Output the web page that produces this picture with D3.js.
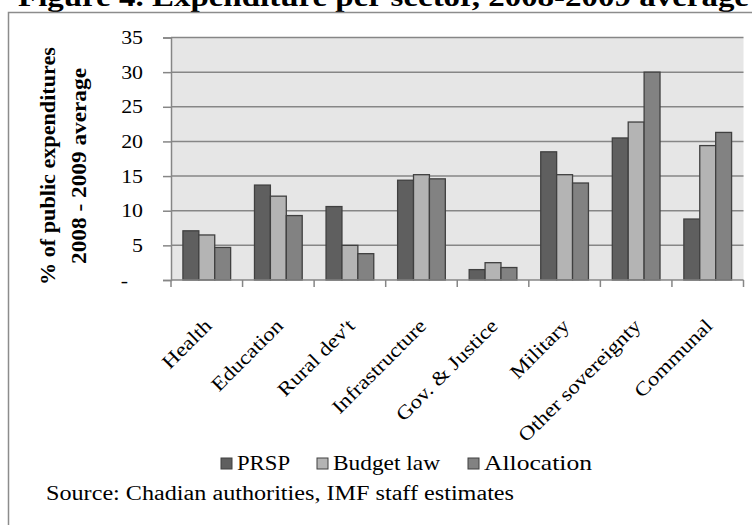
<!DOCTYPE html>
<html>
<head>
<meta charset="utf-8">
<script src="https://cdn.jsdelivr.net/npm/d3@7"></script>
<style>
  html, body { margin: 0; padding: 0; background: #fff; }
  svg { display: block; }
  text { font-family: "Liberation Serif", "Times New Roman", serif; fill: #000; }
</style>
</head>
<body>
<svg id="chart" width="752" height="525"></svg>
<script>
// Sector categories and the three expenditure series (% of public expenditures)
const categories = ["Health", "Education", "Rural dev't", "Infrastructure", "Gov. & Justice",
                    "Military", "Other sovereignty", "Communal"];
const seriesNames = ["PRSP", "Budget law", "Allocation"];
const prsp       = [7.1, 13.7, 10.6, 14.4, 1.5, 18.5, 20.5, 8.8];
const budgetLaw  = [6.5, 12.1, 5.0, 15.2, 2.5, 15.2, 22.8, 19.4];
const allocation = [4.7, 9.3, 3.8, 14.6, 1.8, 14.0, 30.0, 21.3];
const yTicks = [0, 5, 10, 15, 20, 25, 30, 35];

const seriesValues = [prsp, budgetLaw, allocation];
const seriesColors = ["#5f5f5f", "#b4b4b4", "#828282"];

const svg = d3.select("#chart");

// horizontally widen a text element to a given factor of its natural width
function stretch(sel, k) {
  sel.each(function () {
    const w = this.getComputedTextLength();
    d3.select(this).attr("textLength", w * k).attr("lengthAdjust", "spacingAndGlyphs");
  });
}

// Title (top edge clipped by the page)
svg.append("text")
  .attr("x", 18).attr("y", 6)
  .attr("font-size", 28).attr("font-weight", "bold")
  .attr("textLength", 731).attr("lengthAdjust", "spacingAndGlyphs")
  .text("Figure 4. Expenditure per sector, 2008-2009 average");

// Outer chart frame
svg.append("rect")
  .attr("x", 8.5).attr("y", 12.5).attr("width", 800).attr("height", 600)
  .attr("fill", "none").attr("stroke", "#8c8c8c").attr("stroke-width", 1.5);

const plot = { left: 171, right: 743.5, top: 37.5, bottom: 280 };

const x0 = d3.scaleBand().domain(categories).range([plot.left, plot.right]).padding(0);
const bw = x0.bandwidth();
const gap = bw * 1.5 / 4.5;
const x1 = d3.scaleBand().domain(seriesNames).range([gap / 2, bw - gap / 2]).padding(0);
const y = d3.scaleLinear().domain([0, 35]).range([plot.bottom, plot.top]);

// Plot background
svg.append("rect")
  .attr("x", plot.left).attr("y", y(35))
  .attr("width", plot.right - plot.left).attr("height", y(0) - y(35))
  .attr("fill", "#e6e6e6");

// Horizontal gridlines
svg.append("g").selectAll("line").data(yTicks.filter(d => d > 0)).join("line")
  .attr("x1", plot.left).attr("x2", plot.right)
  .attr("y1", d => y(d)).attr("y2", d => y(d))
  .attr("stroke", "#868686").attr("stroke-width", 1.5);

// Y axis
const yAxis = svg.append("g")
  .attr("transform", `translate(${plot.left},0)`)
  .call(d3.axisLeft(y).tickValues(yTicks).tickSize(8).tickPadding(20)
    .tickFormat(d => d === 0 ? "-" : d3.format("d")(d)));
yAxis.select(".domain").attr("stroke", "#868686").attr("stroke-width", 1.5);
yAxis.selectAll(".tick line").attr("stroke", "#868686").attr("stroke-width", 1.5);
yAxis.selectAll(".tick text")
  .attr("font-family", "Liberation Serif").attr("font-size", 19).attr("fill", "#000")
  .attr("dx", d => d === 0 ? -15 : 0)
  .call(stretch, 1.15);

// Bars
const groups = svg.append("g").selectAll("g").data(categories).join("g")
  .attr("transform", d => `translate(${x0(d)},0)`);
groups.selectAll("rect")
  .data((c, i) => seriesNames.map((s, j) => ({ s, v: seriesValues[j][i], j })))
  .join("rect")
  .attr("x", d => x1(d.s)).attr("width", x1.bandwidth())
  .attr("y", d => y(d.v)).attr("height", d => y(0) - y(d.v))
  .attr("fill", d => seriesColors[d.j])
  .attr("stroke", "#404040").attr("stroke-width", 1.3);

// X axis line and boundary ticks
const xg = svg.append("g");
xg.append("line")
  .attr("x1", plot.left).attr("x2", plot.right)
  .attr("y1", y(0)).attr("y2", y(0))
  .attr("stroke", "#868686").attr("stroke-width", 1.5);
const bounds = categories.map(c => x0(c)).concat([x0(categories[categories.length - 1]) + bw]);
xg.selectAll("line.tk").data(bounds).join("line").attr("class", "tk")
  .attr("x1", d => d).attr("x2", d => d)
  .attr("y1", y(0)).attr("y2", y(0) + 7)
  .attr("stroke", "#868686").attr("stroke-width", 1.5);

// Rotated category labels
xg.selectAll("text").data(categories).join("text")
  .attr("transform", d => `translate(${x0(d) + bw / 2 + 6},${y(0) + 47}) rotate(-45)`)
  .attr("text-anchor", "end")
  .attr("font-size", 19.5)
  .text(d => d)
  .call(stretch, 1.17);

// Y axis title
const yt = svg.append("g").attr("transform", "translate(0,166) rotate(-90)");
yt.append("text").attr("x", 0).attr("y", 55)
  .attr("text-anchor", "middle").attr("font-size", 20.5).attr("font-weight", "bold")
  .attr("textLength", 238).attr("lengthAdjust", "spacingAndGlyphs")
  .text("% of public expenditures");
yt.append("text").attr("x", 0).attr("y", 86)
  .attr("text-anchor", "middle").attr("font-size", 20.5).attr("font-weight", "bold")
  .attr("textLength", 196).attr("lengthAdjust", "spacingAndGlyphs")
  .text("2008 - 2009 average");

// Legend
const legendX = [221, 317, 468];
const legendW = [53, 107, 108];
const lg = svg.append("g").selectAll("g").data(seriesNames).join("g")
  .attr("transform", (d, i) => `translate(${legendX[i]},0)`);
lg.append("rect")
  .attr("x", 0).attr("y", 458).attr("width", 11).attr("height", 11)
  .attr("fill", (d, i) => seriesColors[i]).attr("stroke", "#404040").attr("stroke-width", 1);
lg.append("text")
  .attr("x", 16).attr("y", 470)
  .attr("font-size", 21)
  .attr("textLength", (d, i) => legendW[i]).attr("lengthAdjust", "spacingAndGlyphs")
  .text(d => d);

// Source note
svg.append("text")
  .attr("x", 46).attr("y", 500)
  .attr("font-size", 20)
  .attr("textLength", 468).attr("lengthAdjust", "spacingAndGlyphs")
  .text("Source: Chadian authorities, IMF staff estimates");
</script>
</body>
</html>
